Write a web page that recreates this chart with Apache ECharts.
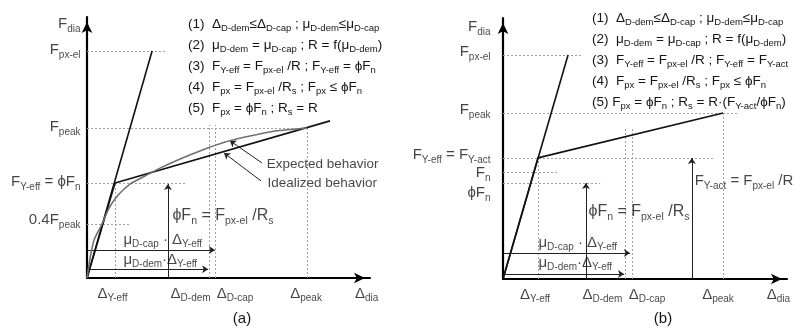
<!DOCTYPE html>
<html><head><meta charset="utf-8">
<style>html,body{margin:0;padding:0;background:#fff}#c{width:803px;height:327px}</style>
<script src="https://cdn.jsdelivr.net/npm/echarts@6/dist/echarts.min.js"></script>
</head><body><div id="c"></div>
<script>
// ===== Panel (a) values (units: % of axis length) =====
const aElastic   = [[0,0],[23.0,87.0]];
const aIdealized = [[0,0],[9.9,36.4],[85.9,60.2]];
const aExpected  = [[0,0],[1.1,7.7],[2.5,14.6],[5.3,20.7],[7.8,26.8],[11.0,31.8],[15.2,36.0],[20.5,39.1],[25.8,42.1],[32.9,45.6],[39.9,48.7],[48.8,52.1],[57.6,54.4],[66.4,56.3],[77.7,57.5]];
const aFLevels   = [87.0, 57.5, 36.4, 20.7];   // F_px-el, F_peak, F_Y-eff, 0.4F_peak
const aFLevelEnd = [27.6, 77.7, 34.6, 15.2];
const aDVerts    = [9.9, 43.1, 45.2, 77.7];    // Δ_Y-eff, Δ_D-dem, Δ_D-cap, Δ_peak
const aDVertTop  = [36.4, 58.6, 58.6, 57.5];
const aUpArrows  = [[28.6, 36.0]];            // [x, tip height]
const aMuArrows  = [[10.7, 45.2], [3.4, 42.8]]; // [height, end x]
const aLeaders   = [[[61.8,44.1],[50.5,52.6]], [[61.5,37.2],[48.4,47.9]]];
const aYLabels   = [["F{s|dia}",97.3],["F{s|px-el}",87.4],["F{s|peak}",57.9],["F{s|Y-eff} = ϕF{s|n}",36.8],["0.4F{s|peak}",22.2]];
const aXLabels   = [["Δ{s|Y-eff}",9.0],["Δ{s|D-dem}",36.6],["Δ{s|D-cap}",52.3],["Δ{s|peak}",77.4],["Δ{s|dia}",98.8]];
const aNotes     = [["ϕF{s|n} = F{s|px-el} /R{s|s}",30.0,23.8,"b"],["μ{s|D-cap} · Δ{s|Y-eff}",12.7,14.6,"m"],["μ{s|D-dem}·Δ{s|Y-eff}",12.7,6.9,"m"],["Expected behavior",63.3,43.7,"t"],["Idealized behavior",63.6,36.4,"t"]];
const aEquations = ["(1)  Δ{s|D-dem}≤Δ{s|D-cap} ; μ{s|D-dem}≤μ{s|D-cap}","(2)  μ{s|D-dem} = μ{s|D-cap} ; R = f(μ{s|D-dem})","(3)  F{s|Y-eff} = F{s|px-el} /R ; F{s|Y-eff} = ϕF{s|n}","(4)  F{s|px} = F{s|px-el} /R{s|s} ; F{s|px} ≤ ϕF{s|n}","(5)  F{s|px} = ϕF{s|n} ; R{s|s} = R"];

// ===== Panel (b) values =====
const bElastic   = [[0,0],[22.9,85.8]];
const bIdealized = [[0,0],[12.3,46.4],[77.5,63.6]];
const bFLevels   = [85.8, 63.6, 46.4, 41.0, 36.8]; // F_px-el, F_peak, F_Y-eff, F_n, ϕF_n
const bFLevelEnd = [27.8, 82.4, 73.9, 19.0, 34.2];
const bDVerts    = [12.3, 43.0, 45.4, 77.5];
const bDVertTop  = [46.4, 58.2, 58.2, 63.6];
const bUpArrows  = [[29.2, 36.8], [66.5, 46.4]];
const bMuArrows  = [[10.0, 44.7], [1.9, 42.6]];
const bYLabels   = [["F{s|dia}",96.6],["F{s|px-el}",87.0],["F{s|peak}",64.8],["F{s|Y-eff} = F{s|Y-act}",47.5],["F{s|n}",40.6],["ϕF{s|n}",33.0]];
const bXLabels   = [["Δ{s|Y-eff}",11.3],["Δ{s|D-dem}",35.0],["Δ{s|D-cap}",50.7],["Δ{s|peak}",75.7],["Δ{s|dia}",97.0]];
const bNotes     = [["ϕF{s|n} = F{s|px-el} /R{s|s}",29.9,25.7,"b"],["F{s|Y-act} = F{s|px-el} /R",67.3,37.5,"c"],["μ{s|D-cap} · Δ{s|Y-eff}",12.3,13.8,"m"],["μ{s|D-dem}·Δ{s|Y-eff}",12.3,6.2,"m"]];
const bEquations = ["(1)  Δ{s|D-dem}≤Δ{s|D-cap} ; μ{s|D-dem}≤μ{s|D-cap}","(2)  μ{s|D-dem} = μ{s|D-cap} ; R = f(μ{s|D-dem})","(3)  F{s|Y-eff} = F{s|px-el} /R ; F{s|Y-eff} = F{s|Y-act}","(4)  F{s|px} = F{s|px-el} /R{s|s} ; F{s|px} ≤ ϕF{s|n}","(5) F{s|px} = ϕF{s|n} ; R{s|s} = R·(F{s|Y-act}/ϕF{s|n})"];
const captions   = ["(a)", "(b)"];

const FONT = "'Liberation Sans', Arial, sans-serif";
const INK = '#151515';
function rich(sub, pad) {
  return { s: { fontSize: sub, fontFamily: FONT, color: INK, padding: [pad,0,0,0], lineHeight: 10 } };
}
const styles = {
  L: { size: 15, rich: rich(10, 10) },
  b: { size: 16, rich: rich(10.5, 10) },
  c: { size: 15, rich: rich(10, 10) },
  m: { size: 15, rich: rich(10, 9) },
  t: { size: 13.5, rich: {} },
  E: { size: 13.5, rich: rich(9.5, 8) }
};

const series = [];
const graphic = [];

function panel(idx, d) {
  const ax = { xAxisIndex: idx, yAxisIndex: idx };
  series.push(Object.assign({ type: 'line', data: d.elastic, showSymbol: false, lineStyle: { color: '#111', width: 1.6 } }, ax));
  series.push(Object.assign({ type: 'line', data: d.idealized, showSymbol: false, lineStyle: { color: '#111', width: 1.6 } }, ax));
  if (d.expected) series.push(Object.assign({ type: 'line', data: d.expected, smooth: 0.25, showSymbol: false, lineStyle: { color: '#707070', width: 1.6 } }, ax));
  const dots = [];
  d.fLevels.forEach((v, i) => dots.push({ coords: [[0, v], [d.fLevelEnd[i], v]] }));
  d.dVerts.forEach((v, i) => dots.push({ coords: [[v, 0], [v, d.dVertTop[i]]] }));
  series.push(Object.assign({ type: 'lines', coordinateSystem: 'cartesian2d', data: dots, symbol: 'none', lineStyle: { color: '#a0a0a0', width: 1, type: [2, 2], opacity: 1 } }, ax));
  const arr = [];
  d.upArrows.forEach(a => arr.push({ coords: [[a[0], 0], [a[0], a[1]]] }));
  d.muArrows.forEach(a => arr.push({ coords: [[0, a[0]], [a[1], a[0]]] }));
  (d.leaders || []).forEach(l => arr.push({ coords: l }));
  series.push(Object.assign({ type: 'lines', coordinateSystem: 'cartesian2d', data: arr, symbol: ['none', 'arrow'], symbolSize: 6, lineStyle: { color: '#222', width: 1, opacity: 1 } }, ax));
  const labels = [];
  d.yLabels.forEach(l => labels.push({ value: [0, l[1]], label: { formatter: l[0], position: 'left', distance: d.yDist, fontSize: 15, rich: styles.L.rich } }));
  d.xLabels.forEach(l => labels.push({ value: [l[1], -6.0], label: { formatter: l[0], position: 'inside', fontSize: 15, rich: styles.L.rich } }));
  d.notes.forEach(n => labels.push({ value: [n[1], n[2]], label: { formatter: n[0], position: 'right', distance: 0, fontSize: styles[n[3]].size, rich: styles[n[3]].rich } }));
  series.push(Object.assign({ type: 'scatter', data: labels, symbolSize: 1, clip: false, itemStyle: { color: 'rgba(0,0,0,0)' },
    label: { show: true, color: INK, fontFamily: FONT }, silent: true }, ax));
  d.equations.forEach((t, i) => graphic.push({ type: 'text', x: d.eqX, y: d.eqY[i], silent: true,
    style: { text: t, font: styles.E.size + 'px ' + FONT, fill: INK, verticalAlign: 'middle', rich: styles.E.rich } }));
  graphic.push({ type: 'text', x: d.capX, y: 319, style: { text: d.caption, font: '15px ' + FONT, fill: INK, align: 'center', verticalAlign: 'middle' } });
}

panel(0, { elastic: aElastic, idealized: aIdealized, expected: aExpected, fLevels: aFLevels, fLevelEnd: aFLevelEnd,
  dVerts: aDVerts, dVertTop: aDVertTop, upArrows: aUpArrows, muArrows: aMuArrows, leaders: aLeaders,
  yLabels: aYLabels, xLabels: aXLabels, notes: aNotes, yDist: 6, equations: aEquations, eqX: 188, eqY: [24, 45, 66, 87, 108], caption: captions[0], capX: 242 });
panel(1, { elastic: bElastic, idealized: bIdealized, fLevels: bFLevels, fLevelEnd: bFLevelEnd,
  dVerts: bDVerts, dVertTop: bDVertTop, upArrows: bUpArrows, muArrows: bMuArrows,
  yLabels: bYLabels, xLabels: bXLabels, notes: bNotes, yDist: 12, equations: bEquations, eqX: 592, eqY: [18, 39, 60, 81, 102], caption: captions[1], capX: 663 });

const axisLine = { show: true, symbol: ['none', 'arrow'], symbolSize: [8, 11], symbolOffset: [0, -5], lineStyle: { color: '#000', width: 2.2 } };
function mkAxis(gi) {
  return { type: 'value', gridIndex: gi, min: 0, max: 100, axisLine: axisLine, axisTick: { show: false }, axisLabel: { show: false }, splitLine: { show: false } };
}
const chart = echarts.init(document.getElementById('c'), null, { renderer: 'canvas' });
chart.setOption({
  animation: false,
  grid: [{ left: 87, top: 17, width: 283, height: 261 }, { left: 503, top: 18, width: 284, height: 261 }],
  xAxis: [mkAxis(0), mkAxis(1)],
  yAxis: [mkAxis(0), mkAxis(1)],
  series: series,
  graphic: graphic
});
</script></body></html>
